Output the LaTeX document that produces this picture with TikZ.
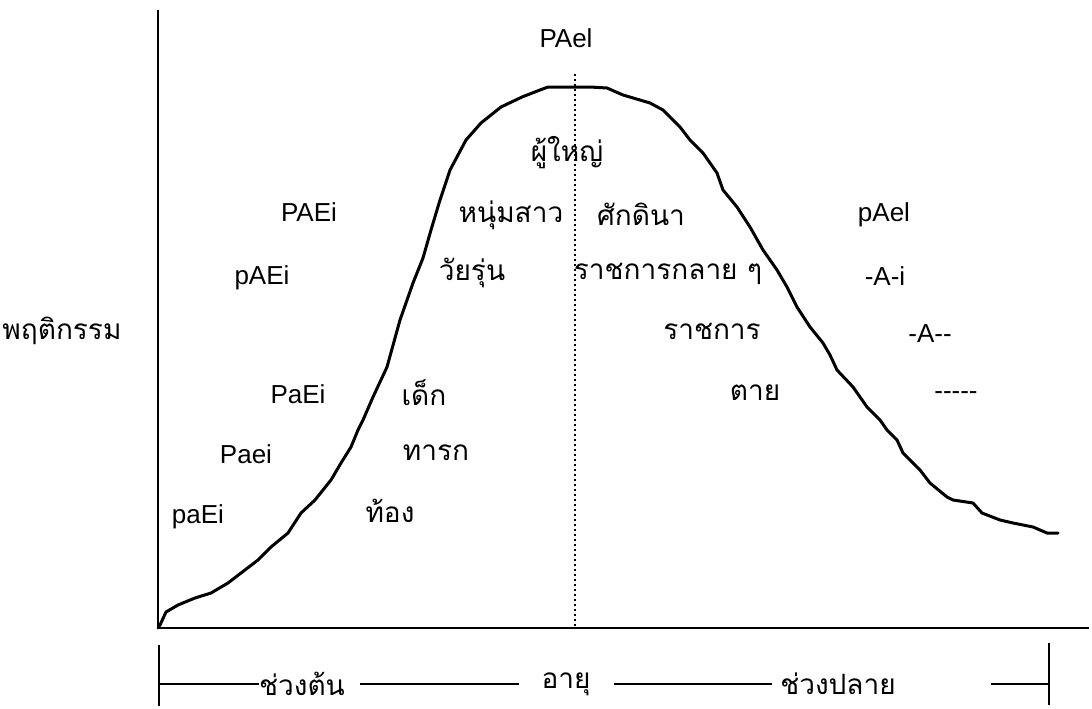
\documentclass[tikz,border=0pt]{standalone}
\usepackage{fontspec}
\setmainfont{Liberation Sans}
\newfontfamily\thaifont[Script=Thai]{Loma}
\begin{document}
\begin{tikzpicture}[x=1pt,y=-1pt,
  lat/.style={font=\fontsize{26}{30}\selectfont, inner sep=0pt},
  th/.style={font=\thaifont\fontsize{28}{32}\selectfont, inner sep=0pt},
  axisline/.style={line width=2pt},
  curveline/.style={line width=3pt, line join=round, line cap=round},
  midline/.style={line width=1.6pt, dash pattern=on 2pt off 3pt},
  bar/.style={line width=2pt},
  tick/.style={line width=2.6pt}]
\useasboundingbox (0,0) rectangle (1092,709);
% axes
\coordinate (o) at (158,628);
\coordinate (ytop) at (158,10);
\coordinate (xend) at (1089,628);
\draw[axisline] (ytop) -- (o) -- (xend);
% dotted middle line
\coordinate (mtop) at (575,74);
\coordinate (mbot) at (575,628);
\draw[midline] (mtop) -- (mbot);
% curve
\draw[curveline] (158,628) -- (160,625) -- (166,612) -- (178,605) -- (195,598) -- (211,593) -- (228,583) -- (241,573) -- (258,560) -- (271,547) -- (288,533) -- (301,513) -- (315,500) -- (331,480) -- (341,463) -- (351,447) -- (358,430) -- (363,420) -- (373,397) -- (387,367) -- (400,320) -- (413,283) -- (423,258) -- (431,230) -- (440,200) -- (450,170) -- (466,140) -- (481,123) -- (501,107) -- (522,97) -- (540,90) -- (548,87) -- (590,87) -- (607,88) -- (623,95) -- (650,103) -- (663,110) -- (680,127) -- (690,140) -- (703,153) -- (717,173) -- (723,190) -- (737,207) -- (750,227) -- (763,250) -- (777,270) -- (787,287) -- (797,307) -- (810,327) -- (823,343) -- (830,355) -- (837,370) -- (853,387) -- (867,407) -- (880,420) -- (887,430) -- (897,440) -- (903,453) -- (920,470) -- (930,483) -- (947,497) -- (953,500) -- (973,503) -- (982,513) -- (1000,520) -- (1013,523) -- (1033,527) -- (1047,533) -- (1058,533);
% Latin labels
\node[lat] (t1) at (566,38) {PAel};
\node[lat] (t2) at (309,212) {PAEi};
\node[lat] (t3) at (262,278) {pAEi};
\node[lat] (t4) at (298,394) {PaEi};
\node[lat] (t5) at (246,454) {Paei};
\node[lat] (t6) at (198,517) {paEi};
\node[lat] (t7) at (884,215) {pAel};
\node[lat] (t8) at (885,276) {-A-i};
\node[lat] (t9) at (930,334) {-A-\kern0pt-};
\node[lat] (t10) at (956,396) {-\kern0pt-\kern0pt-\kern0pt-\kern0pt-};
% Thai labels
\node[th] (h0) at (62,331) {พฤติกรรม};
\node[th] (h1) at (567,153) {ผู้ใหญ่};
\node[th] (h2) at (511,215) {หนุ่มสาว};
\node[th] (h3) at (472,273) {วัยรุ่น};
\node[th] (h4) at (424,393) {เด็ก};
\node[th] (h5) at (436,453) {ทารก};
\node[th] (h6) at (390,511) {ท้อง};
\node[th] (h7) at (641,214) {ศักดินา};
\node[th] (h8) at (668,274) {ราชการกลาย ๆ};
\node[th] (h9) at (712,331) {ราชการ};
\node[th] (h10) at (755,393) {ตาย};
% bottom scale
\node[th] (b1) at (302,684) {ช่วงต้น};
\node[th] (b2) at (566,684) {อายุ};
\node[th] (b3) at (838,684) {ช่วงปลาย};
\coordinate (bl) at (159,684);
\coordinate (blt) at (159,645);
\coordinate (blb) at (159,706);
\coordinate (br) at (1049,684);
\coordinate (brt) at (1049,643);
\coordinate (brb) at (1049,705);
\coordinate (s2a) at (360,684);
\coordinate (s2b) at (519,684);
\coordinate (s3a) at (614,684);
\coordinate (s3b) at (772,684);
\coordinate (s4a) at (991,684);
\draw[tick] (blt) -- (blb);
\draw[tick] (brt) -- (brb);
\draw[bar] (bl) -- (b1.west);
\draw[bar] (s2a) -- (s2b);
\draw[bar] (s3a) -- (s3b);
\draw[bar] (s4a) -- (br);
\end{tikzpicture}
\end{document}
